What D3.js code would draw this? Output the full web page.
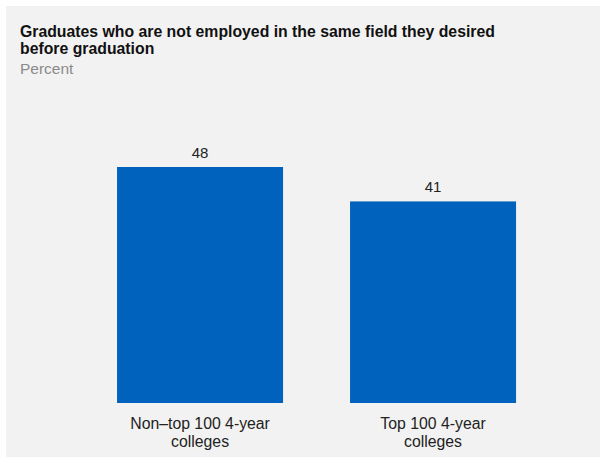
<!DOCTYPE html>
<html><head><meta charset="utf-8">
<script src="https://cdn.jsdelivr.net/npm/d3@7"></script>
<style>html,body{margin:0;padding:0;background:#fff;}svg{display:block;font-family:"Liberation Sans",Arial,sans-serif;}</style>
</head><body>
<script>
const categories = ["Non\u2013top 100 4-year|colleges", "Top 100 4-year|colleges"];
const values = [48, 41];
const titleLines = ["Graduates who are not employed in the same field they desired", "before graduation"];
const subtitle = "Percent";

const W = 600, H = 457;
const svg = d3.select("body").append("svg").attr("width", W).attr("height", H);
svg.append("rect").attr("x", 6).attr("y", 6).attr("width", W - 6).attr("height", H - 6).attr("fill", "#f2f2f2");

const x = d3.scaleBand().domain(categories).range([35.5, 597.6]).paddingInner(0.2875).paddingOuter(0.35);
const y = d3.scaleLinear().domain([0, 48]).range([403, 167]);

svg.selectAll("text.title").data(titleLines).enter().append("text")
  .attr("x", 20).attr("y", (d, i) => 37 + i * 17)
  .attr("font-size", 15.8).attr("font-weight", "bold").attr("fill", "#111").text(d => d);
svg.append("text").attr("x", 20).attr("y", 74).attr("font-size", 15.5).attr("fill", "#8a8a8a").text(subtitle);

svg.selectAll("rect.bar").data(values).enter().append("rect")
  .attr("x", (d, i) => x(categories[i])).attr("width", x.bandwidth())
  .attr("y", d => y(d)).attr("height", d => y(0) - y(d)).attr("fill", "#0062bd");

svg.selectAll("text.val").data(values).enter().append("text")
  .attr("x", (d, i) => x(categories[i]) + x.bandwidth() / 2).attr("y", d => y(d) - 9)
  .attr("text-anchor", "middle").attr("font-size", 15).attr("fill", "#222").text(d => d);

const axis = d3.axisBottom(x).tickSize(0).tickFormat("");
const g = svg.append("g").attr("transform", "translate(0,403)").call(axis);
g.select(".domain").remove();
g.selectAll(".tick").each(function(d) {
  const t = d3.select(this).append("text").attr("text-anchor", "middle").attr("font-size", 15.8).attr("fill", "#222");
  d.split("|").forEach((line, i) => t.append("tspan").attr("x", 0).attr("y", 26 + i * 18).text(line));
});
</script>
</body></html>
